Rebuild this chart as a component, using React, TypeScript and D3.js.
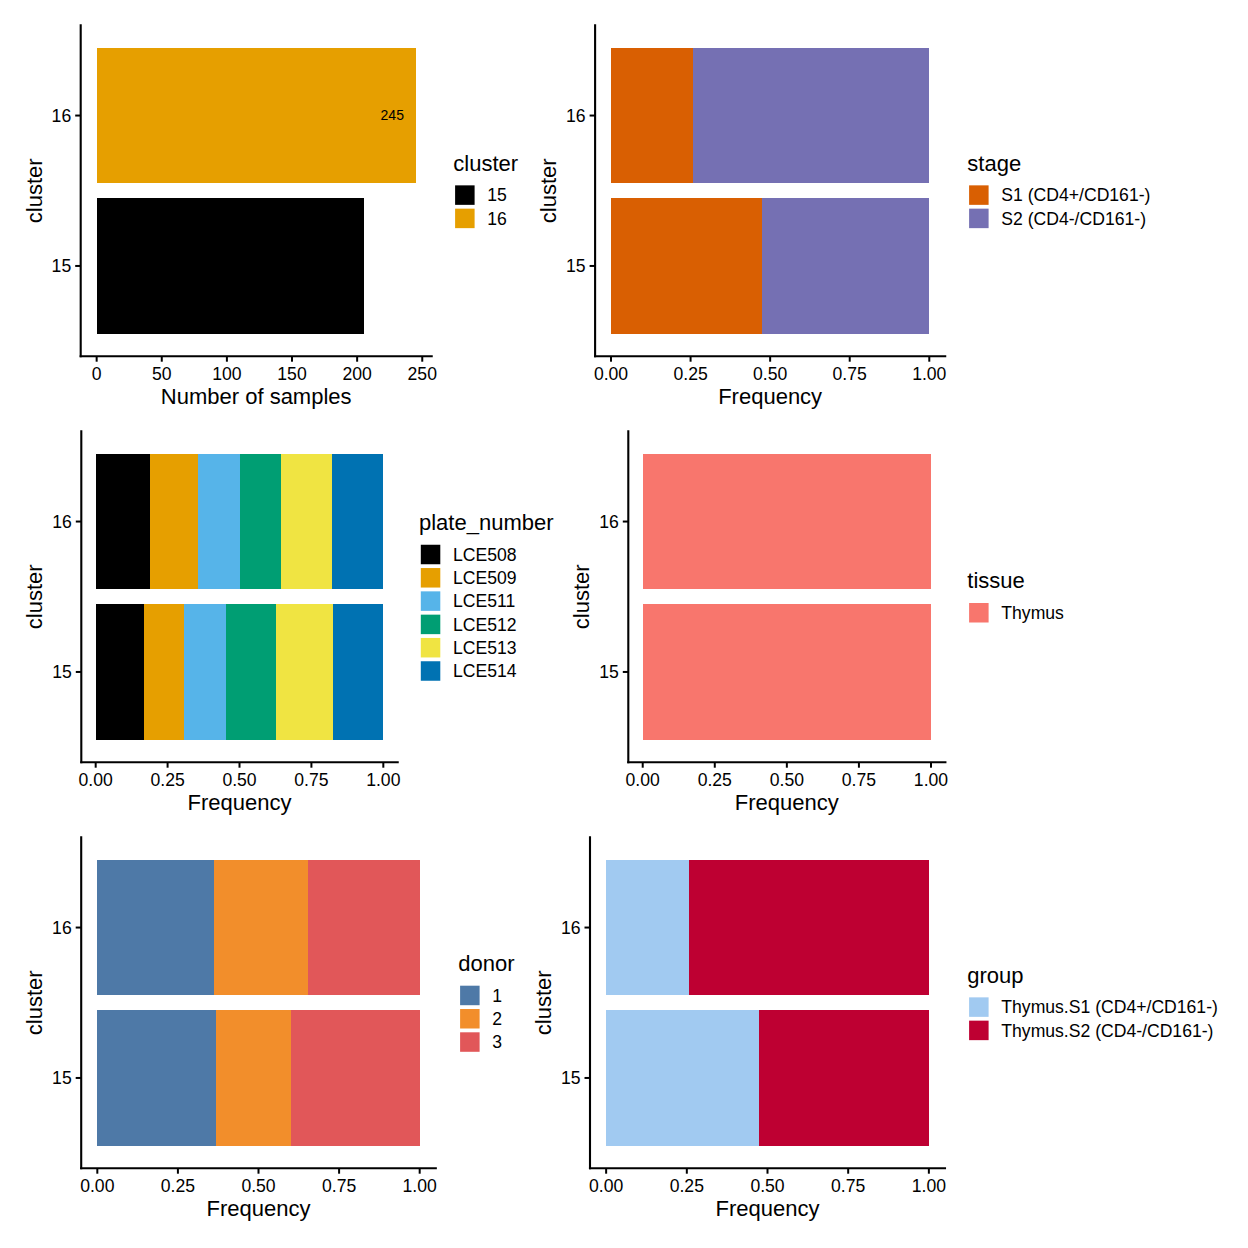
import React from "react";
import * as d3 from "d3";

// ---------- data ----------
const clusters = ["15", "16"];

const sampleCounts = [205, 245];
const clusterColors = ["#000000", "#E69F00"];
const countTicks = [0, 50, 100, 150, 200, 250];

const stageLevels = ["S1 (CD4+/CD161-)", "S2 (CD4-/CD161-)"];
const stageColors = ["#D95F02", "#7570B3"];
const stageFreq15 = [0.474, 0.526];
const stageFreq16 = [0.258, 0.742];

const plateLevels = ["LCE508", "LCE509", "LCE511", "LCE512", "LCE513", "LCE514"];
const plateColors = ["#000000", "#E69F00", "#56B4E9", "#009E73", "#F0E442", "#0072B2"];
const plateFreq15 = [0.168, 0.139, 0.147, 0.174, 0.198, 0.174];
const plateFreq16 = [0.188, 0.166, 0.147, 0.144, 0.178, 0.177];

const tissueLevels = ["Thymus"];
const tissueColors = ["#F8766D"];
const tissueFreq15 = [1];
const tissueFreq16 = [1];

const donorLevels = ["1", "2", "3"];
const donorColors = ["#4E79A7", "#F28E2B", "#E15759"];
const donorFreq15 = [0.368, 0.233, 0.399];
const donorFreq16 = [0.361, 0.292, 0.347];

const groupLevels = ["Thymus.S1 (CD4+/CD161-)", "Thymus.S2 (CD4-/CD161-)"];
const groupColors = ["#A1CAF1", "#BE0032"];
const groupFreq15 = [0.474, 0.526];
const groupFreq16 = [0.256, 0.744];

const freqTicks = [0, 0.25, 0.5, 0.75, 1];

// ---------- layout ----------
const FONT = "'Liberation Sans', Arial, Helvetica, sans-serif";
const ROW_STEP = 406;
const PANEL_TOP = 25.3;
const PANEL_BOTTOM = 356.2;

type Seg = { value: number; color: string };
type BarRow = { cluster: string; segs: Seg[]; label?: string };

type PanelProps = {
  row: number;
  x0: number;
  x1: number;
  xMax: number;
  ticks: number[];
  fmt: (v: number) => string;
  xTitle: string;
  bars: BarRow[];
  legendTitle: string;
  legendX: number;
  levels: string[];
  colors: string[];
};

function Panel(p: PanelProps) {
  const top = PANEL_TOP + ROW_STEP * p.row;
  const bottom = PANEL_BOTTOM + ROW_STEP * p.row;
  const pad = 0.05 * p.xMax;
  const x = d3.scaleLinear().domain([-pad, p.xMax + pad]).range([p.x0, p.x1]);
  const y = d3.scaleLinear().domain([0.4, clusters.length + 0.6]).range([bottom, top]);
  const cy = (top + bottom) / 2;
  const n = p.levels.length;
  const pitch = 23.3;
  const titleC = cy - (32 + (n - 1) * pitch) / 2;
  const axisW = 2.1;

  return (
    <g>
      {p.bars.map((b, i) => {
        const pos = i + 1;
        const ends = d3.cumsum(b.segs.map((s) => s.value));
        return (
          <g key={b.cluster}>
            {b.segs.map((s, j) => {
              const start = j === 0 ? 0 : ends[j - 1];
              return (
                <rect
                  key={j}
                  x={x(start)}
                  width={x(ends[j]) - x(start)}
                  y={y(pos + 0.45)}
                  height={y(pos - 0.45) - y(pos + 0.45)}
                  fill={s.color}
                  shapeRendering="crispEdges"
                />
              );
            })}
            {b.label ? (
              <text
                x={x(ends[ends.length - 1]) - 23.5}
                y={y(pos)}
                dy="0.35em"
                textAnchor="middle"
                fontSize={14}
                fontFamily={FONT}
                fill="#000"
              >
                {b.label}
              </text>
            ) : null}
          </g>
        );
      })}

      {/* axes */}
      <line x1={p.x0} y1={top} x2={p.x0} y2={bottom} stroke="#000" strokeWidth={axisW} strokeLinecap="square" />
      <line x1={p.x0} y1={bottom} x2={p.x1} y2={bottom} stroke="#000" strokeWidth={axisW} strokeLinecap="square" />

      {clusters.map((c, i) => (
        <g key={c}>
          <line x1={p.x0 - 5.5} x2={p.x0} y1={y(i + 1)} y2={y(i + 1)} stroke="#000" strokeWidth={2} />
          <text
            x={p.x0 - 9.5}
            y={y(i + 1)}
            dy="0.35em"
            textAnchor="end"
            fontSize={17.6}
            fontFamily={FONT}
            fill="#000"
          >
            {c}
          </text>
        </g>
      ))}

      {p.ticks.map((t) => (
        <g key={t}>
          <line x1={x(t)} x2={x(t)} y1={bottom} y2={bottom + 5.5} stroke="#000" strokeWidth={2} />
          <text
            x={x(t)}
            y={bottom + 24}
            textAnchor="middle"
            fontSize={17.6}
            fontFamily={FONT}
            fill="#000"
          >
            {p.fmt(t)}
          </text>
        </g>
      ))}

      <text
        x={(p.x0 + p.x1) / 2}
        y={bottom + 48}
        textAnchor="middle"
        fontSize={22}
        fontFamily={FONT}
        fill="#000"
      >
        {p.xTitle}
      </text>
      <text
        transform={`translate(${p.x0 - 39},${cy}) rotate(-90)`}
        textAnchor="middle"
        fontSize={22}
        fontFamily={FONT}
        fill="#000"
      >
        cluster
      </text>

      {/* legend */}
      <text x={p.legendX} y={titleC} dy="0.35em" fontSize={22} fontFamily={FONT} fill="#000">
        {p.legendTitle}
      </text>
      {p.levels.map((lv, i) => {
        const kc = titleC + 32 + i * pitch;
        return (
          <g key={lv}>
            <rect x={p.legendX + 1.8} y={kc - 9.75} width={19.5} height={19.5} fill={p.colors[i]} />
            <text
              x={p.legendX + 34}
              y={kc}
              dy="0.36em"
              fontSize={17.6}
              fontFamily={FONT}
              fill="#000"
            >
              {lv}
            </text>
          </g>
        );
      })}
    </g>
  );
}

const fmtFreq = (v: number) => d3.format(".2f")(v);
const fmtCount = (v: number) => d3.format("d")(v);

function stacked(f15: number[], f16: number[], colors: string[]): BarRow[] {
  return [
    { cluster: clusters[0], segs: f15.map((v, i) => ({ value: v, color: colors[i] })) },
    { cluster: clusters[1], segs: f16.map((v, i) => ({ value: v, color: colors[i] })) },
  ];
}

export default function App() {
  const countBars: BarRow[] = clusters.map((c, i) => ({
    cluster: c,
    segs: [{ value: sampleCounts[i], color: clusterColors[i] }],
    label: i === 1 ? String(sampleCounts[i]) : undefined,
  }));

  return (
    <svg
      width={1248}
      height={1248}
      viewBox="0 0 1248 1248"
      style={{ position: "absolute", left: 0, top: 0, background: "#fff" }}
    >
      <rect x={0} y={0} width={1248} height={1248} fill="#fff" />
      <Panel
        row={0}
        x0={80.7}
        x1={431.7}
        xMax={d3.max(sampleCounts) as number}
        ticks={countTicks}
        fmt={fmtCount}
        xTitle="Number of samples"
        bars={countBars}
        legendTitle="cluster"
        legendX={453.3}
        levels={clusters}
        colors={clusterColors}
      />
      <Panel
        row={0}
        x0={595.1}
        x1={945.2}
        xMax={1}
        ticks={freqTicks}
        fmt={fmtFreq}
        xTitle="Frequency"
        bars={stacked(stageFreq15, stageFreq16, stageColors)}
        legendTitle="stage"
        legendX={967.3}
        levels={stageLevels}
        colors={stageColors}
      />
      <Panel
        row={1}
        x0={81.3}
        x1={397.7}
        xMax={1}
        ticks={freqTicks}
        fmt={fmtFreq}
        xTitle="Frequency"
        bars={stacked(plateFreq15, plateFreq16, plateColors)}
        legendTitle="plate_number"
        legendX={419}
        levels={plateLevels}
        colors={plateColors}
      />
      <Panel
        row={1}
        x0={628.3}
        x1={945.4}
        xMax={1}
        ticks={freqTicks}
        fmt={fmtFreq}
        xTitle="Frequency"
        bars={stacked(tissueFreq15, tissueFreq16, tissueColors)}
        legendTitle="tissue"
        legendX={967.3}
        levels={tissueLevels}
        colors={tissueColors}
      />
      <Panel
        row={2}
        x0={81.2}
        x1={435.8}
        xMax={1}
        ticks={freqTicks}
        fmt={fmtFreq}
        xTitle="Frequency"
        bars={stacked(donorFreq15, donorFreq16, donorColors)}
        legendTitle="donor"
        legendX={458.3}
        levels={donorLevels}
        colors={donorColors}
      />
      <Panel
        row={2}
        x0={590}
        x1={945}
        xMax={1}
        ticks={freqTicks}
        fmt={fmtFreq}
        xTitle="Frequency"
        bars={stacked(groupFreq15, groupFreq16, groupColors)}
        legendTitle="group"
        legendX={967.3}
        levels={groupLevels}
        colors={groupColors}
      />
    </svg>
  );
}
